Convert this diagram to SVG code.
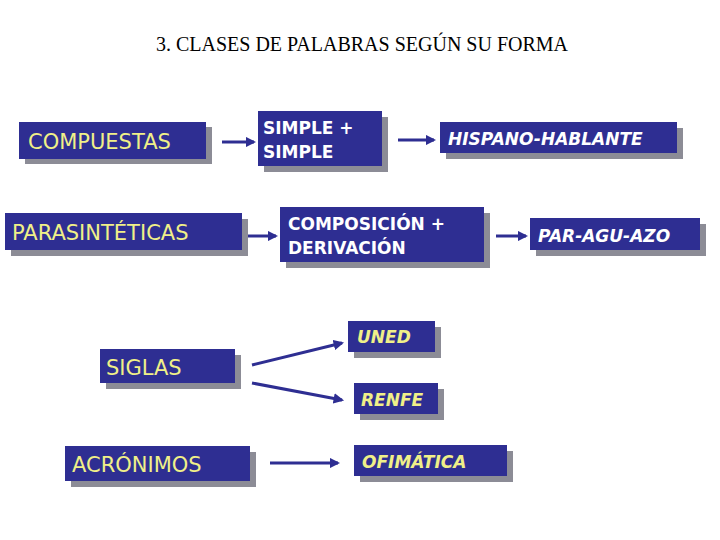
<svg xmlns="http://www.w3.org/2000/svg" width="720" height="540" viewBox="0 0 720 540">
<defs>
<style>
.b{fill:#2e2e92}
.s{fill:#8c8c96}
.t{font-family:"DejaVu Sans",Verdana,sans-serif;font-weight:bold;font-size:17px}
.n{font-weight:normal;font-size:21px}
.y{fill:#f0f088}
.w{fill:#ffffff}
.i{font-style:italic}
.c{stroke:#2e2e92;stroke-width:3;fill:none;marker-end:url(#a)}
</style>
<marker id="a" viewBox="0 0 10 10" refX="8" refY="5" markerWidth="3.5" markerHeight="3.5" orient="auto" markerUnits="strokeWidth"><path d="M0,0L10,5L0,10z" fill="#2e2e92"/></marker>
</defs>
<rect width="720" height="540" fill="#fff"/>
<text x="362" y="51" text-anchor="middle" font-family="Liberation Serif,serif" font-size="20">3. CLASES DE PALABRAS SEGÚN SU FORMA</text>
<g id="compuestas"><rect class="s" x="25" y="127" width="187" height="37"/><rect class="b" x="19" y="122" width="187" height="37"/><text class="t y n" x="28" y="149">COMPUESTAS</text></g>
<g id="simple"><rect class="s" x="264" y="117" width="124" height="55"/><rect class="b" x="258" y="111" width="124" height="55"/><text class="t w" x="263" y="134">SIMPLE +</text><text class="t w" x="263" y="158">SIMPLE</text></g>
<g id="hispano"><rect class="s" x="446" y="128" width="237" height="31"/><rect class="b" x="440" y="122" width="237" height="31"/><text class="t w i" x="448" y="145">HISPANO-HABLANTE</text></g>
<g id="parasinteticas"><rect class="s" x="11" y="219" width="237" height="37"/><rect class="b" x="5" y="213" width="237" height="37"/><text class="t y n" x="12" y="240">PARASINTÉTICAS</text></g>
<g id="composicion"><rect class="s" x="286" y="213" width="204" height="55"/><rect class="b" x="280" y="207" width="204" height="55"/><text class="t w" x="288" y="230">COMPOSICIÓN +</text><text class="t w" x="288" y="254">DERIVACIÓN</text></g>
<g id="paraguazo"><rect class="s" x="536" y="224" width="170" height="32"/><rect class="b" x="530" y="218" width="170" height="32"/><text class="t w i" x="538" y="242">PAR-AGU-AZO</text></g>
<g id="uned"><rect class="s" x="354" y="327" width="87" height="31"/><rect class="b" x="348" y="321" width="87" height="31"/><text class="t y i" x="357" y="343">UNED</text></g>
<g id="siglas"><rect class="s" x="106" y="355" width="135" height="34"/><rect class="b" x="100" y="349" width="135" height="34"/><text class="t y n" x="106" y="375">SIGLAS</text></g>
<g id="renfe"><rect class="s" x="360" y="389" width="84" height="31"/><rect class="b" x="354" y="383" width="84" height="31"/><text class="t y i" x="361" y="406">RENFE</text></g>
<g id="acronimos"><rect class="s" x="71" y="452" width="185" height="35"/><rect class="b" x="65" y="446" width="185" height="35"/><text class="t y n" x="72" y="472">ACRÓNIMOS</text></g>
<g id="ofimatica"><rect class="s" x="360" y="451" width="153" height="31"/><rect class="b" x="354" y="445" width="153" height="31"/><text class="t y i" x="362" y="468">OFIMÁTICA</text></g>
<g id="connectors">
<line class="c" x1="222" y1="142" x2="254" y2="142"/>
<line class="c" x1="398" y1="140" x2="434" y2="140"/>
<line class="c" x1="248" y1="236" x2="276" y2="236"/>
<line class="c" x1="496" y1="236" x2="526" y2="236"/>
<line class="c" x1="252" y1="365" x2="342" y2="343"/>
<line class="c" x1="252" y1="383" x2="342" y2="400"/>
<line class="c" x1="270" y1="463" x2="338" y2="463"/>
</g>
</svg>
